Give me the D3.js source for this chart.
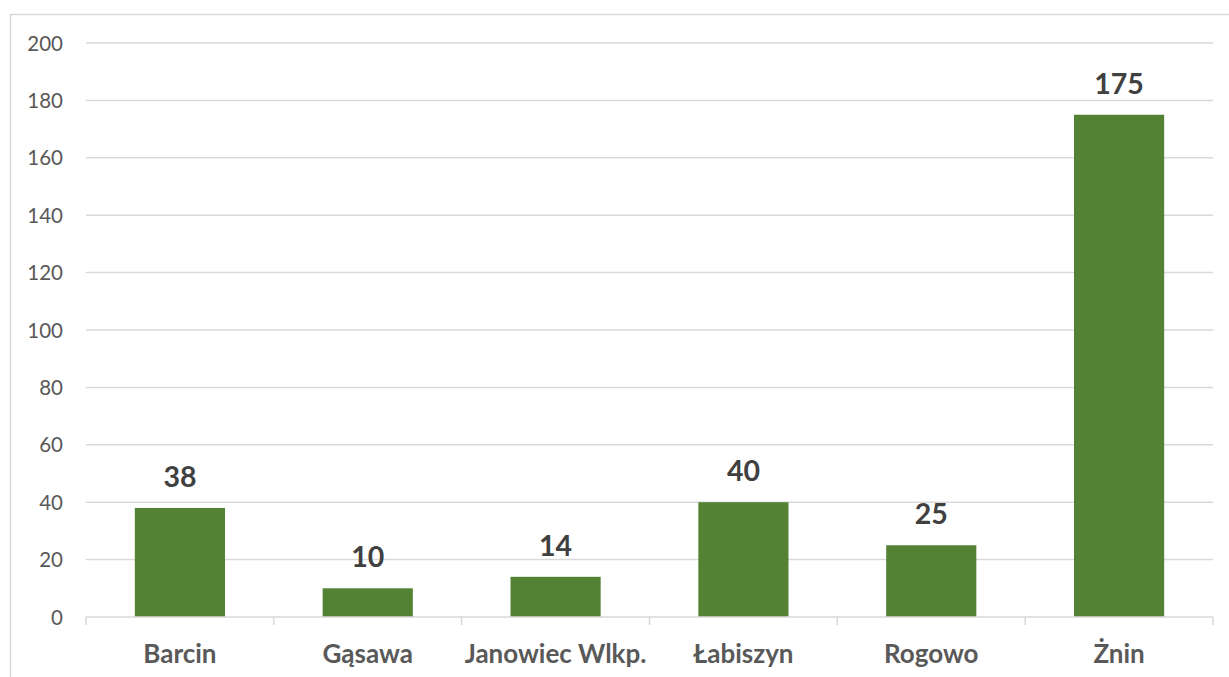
<!DOCTYPE html>
<html>
<head>
<meta charset="utf-8">
<script src="https://cdn.jsdelivr.net/npm/d3@7"></script>
<style>
  body { margin: 0; background: #fff; }
  svg { display: block; font-family: Lato, "Open Sans", sans-serif; }
</style>
</head>
<body>
<svg id="chart"></svg>
<script>
const categories = ['Barcin', 'Gąsawa', 'Janowiec Wlkp.', 'Łabiszyn', 'Rogowo', 'Żnin'];
const values = [38, 10, 14, 40, 25, 175];
const yTicks = [0, 20, 40, 60, 80, 100, 120, 140, 160, 180, 200];

const W = 1229, H = 677;
const plotLeft = 86, plotRight = 1213, plotTop = 43, plotBottom = 617;

const svg = d3.select('#chart')
  .attr('width', W)
  .attr('height', H);

// chart frame
svg.append('path')
  .attr('d', `M10.5,${H + 2} V14.5 H${W + 2}`)
  .attr('fill', 'none')
  .attr('stroke', '#d9d9d9')
  .attr('stroke-width', 1.5);

const x = d3.scaleBand()
  .domain(categories)
  .range([plotLeft, plotRight])
  .paddingInner(0.52)
  .paddingOuter(0.26);

const y = d3.scaleLinear()
  .domain([0, 200])
  .range([plotBottom, plotTop]);

// gridlines
svg.append('g')
  .selectAll('line')
  .data(yTicks.filter(d => d > 0))
  .enter()
  .append('line')
  .attr('x1', plotLeft)
  .attr('x2', plotRight)
  .attr('y1', d => y(d))
  .attr('y2', d => y(d))
  .attr('stroke', '#d9d9d9')
  .attr('stroke-width', 1.5);

// y axis labels
const yAxis = d3.axisLeft(y).tickValues(yTicks).tickSize(0).tickPadding(0);
const gy = svg.append('g')
  .attr('transform', `translate(${plotLeft - 23},0)`)
  .call(yAxis);
gy.select('.domain').remove();
gy.selectAll('text')
  .attr('fill', '#595959')
  .style('font-family', 'Lato, "Open Sans", sans-serif')
  .style('font-size', '20.5px')
  .attr('dy', '0.35em');

// bars
svg.append('g')
  .selectAll('rect')
  .data(values)
  .enter()
  .append('rect')
  .attr('x', (d, i) => x(categories[i]))
  .attr('y', d => y(d))
  .attr('width', x.bandwidth())
  .attr('height', d => y(0) - y(d))
  .attr('fill', '#548235');

// data labels
svg.append('g')
  .selectAll('text')
  .data(values)
  .enter()
  .append('text')
  .attr('x', (d, i) => x(categories[i]) + x.bandwidth() / 2)
  .attr('y', d => y(d) - 21)
  .attr('text-anchor', 'middle')
  .attr('fill', '#404040')
  .style('font-size', '28.5px')
  .style('font-weight', 'bold')
  .text(d => d);

// x axis: baseline with category ticks
const boundaries = d3.range(categories.length + 1)
  .map(i => plotLeft + i * (plotRight - plotLeft) / categories.length);
const gx = svg.append('g');
gx.append('line')
  .attr('x1', plotLeft)
  .attr('x2', plotRight)
  .attr('y1', plotBottom)
  .attr('y2', plotBottom)
  .attr('stroke', '#d9d9d9')
  .attr('stroke-width', 1.5);
gx.selectAll('line.tick')
  .data(boundaries)
  .enter()
  .append('line')
  .attr('class', 'tick')
  .attr('x1', d => d)
  .attr('x2', d => d)
  .attr('y1', plotBottom)
  .attr('y2', plotBottom + 8)
  .attr('stroke', '#d9d9d9')
  .attr('stroke-width', 1.5);

gx.selectAll('text')
  .data(categories)
  .enter()
  .append('text')
  .attr('x', d => x(d) + x.bandwidth() / 2)
  .attr('y', 663)
  .attr('text-anchor', 'middle')
  .attr('fill', '#595959')
  .style('font-size', '26px')
  .style('font-weight', 'bold')
  .text(d => d);
</script>
</body>
</html>
